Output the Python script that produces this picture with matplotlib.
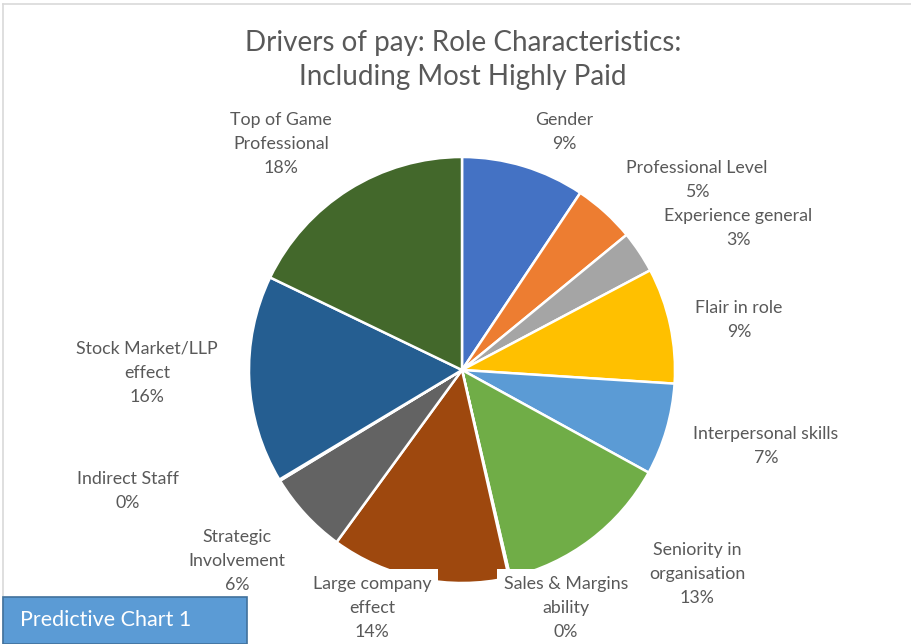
import matplotlib
matplotlib.use("Agg")
import matplotlib.pyplot as plt
from matplotlib.patches import Rectangle
from matplotlib.lines import Line2D

plt.rcParams['font.family'] = ['Lato', 'DejaVu Sans']

categories = ["Gender", "Professional Level", "Experience general", "Flair in role",
              "Interpersonal skills", "Seniority in\norganisation", "Sales & Margins\nability",
              "Large company\neffect", "Strategic\nInvolvement", "Indirect Staff",
              "Stock Market/LLP\neffect", "Top of Game\nProfessional"]
values = [9.4, 4.7, 3.2, 8.8, 7.0, 13.4, 0.1, 13.6, 6.3, 0.1, 15.8, 17.9]
colors = ["#4472C4", "#ED7D31", "#A5A5A5", "#FFC000", "#5B9BD5", "#70AD47",
          "#264478", "#9E480E", "#636363", "#997300", "#255E91", "#43682B"]
title = "Drivers of pay: Role Characteristics:\nIncluding Most Highly Paid"
badge = "Predictive Chart 1"

# label centre positions in pixels (layout)
label_pos = [(564, 132), (697, 180), (738, 228), (739, 320), (766, 446), (697, 574),
             (566, 608), (372, 608), (237, 561), (128, 491), (147, 373), (281, 144)]

W, H = 911, 644
fig = plt.figure(figsize=(W / 100, H / 100), dpi=100)

cx, cy, r = 462, 370, 213
ax = fig.add_axes([(cx - r) / W, (H - cy - r) / H, 2 * r / W, 2 * r / H])
ax.pie(values, colors=colors, startangle=90, counterclock=False, radius=1,
       wedgeprops=dict(edgecolor="white", linewidth=1.8))
ax.set_xlim(-1, 1)
ax.set_ylim(-1, 1)
ax.set_aspect("auto")
ax.axis("off")

total = sum(values)
txtcol = "#595959"
for cat, v, (px, py) in zip(categories, values, label_pos):
    pct = round(v / total * 100)
    fig.text(px / W, 1 - py / H, f"{cat}\n{pct}%", ha="center", va="center",
             fontsize=12.8, color=txtcol, linespacing=1.62,
             bbox=dict(boxstyle="square,pad=0.4", fc="white", ec="none"), zorder=5)

fig.text(463 / W, 1 - 60 / H, title, ha="center", va="center", fontsize=20,
         color=txtcol, linespacing=1.42)

# chart border (top and left)
fig.add_artist(Line2D([3 / W, 1], [1 - 4 / H, 1 - 4 / H], color="#D9D9D9", lw=1.2,
                      transform=fig.transFigure))
fig.add_artist(Line2D([3 / W, 3 / W], [1 - 4 / H, 0], color="#D9D9D9", lw=1.2,
                      transform=fig.transFigure))

# badge
fig.add_artist(Rectangle((3 / W, 0), 244 / W, 47 / H, transform=fig.transFigure,
                         fc="#5B9BD5", ec="#41719C", lw=1.2, zorder=6))
fig.text(20 / W, 1 - 620 / H, badge, ha="left", va="center", fontsize=15.5,
         color="white", zorder=7)

fig.savefig("out.png", dpi=100, facecolor="white")
